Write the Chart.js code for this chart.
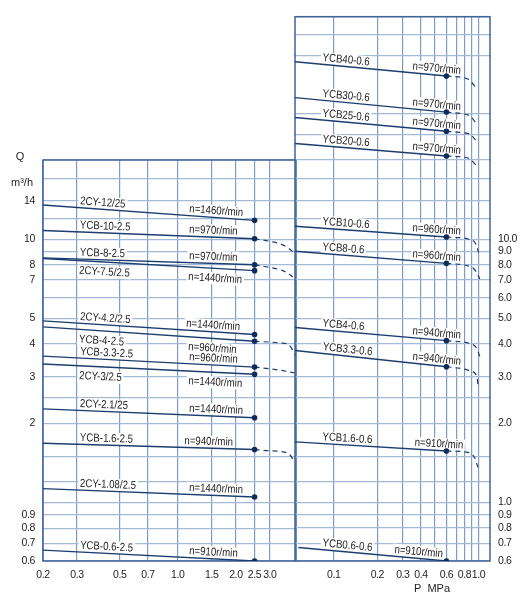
<!DOCTYPE html>
<html>
<head>
<meta charset="utf-8">
<title>Pump performance chart</title>
<script src="https://cdn.jsdelivr.net/npm/chart.js@4.4.1/dist/chart.umd.min.js"></script>
<style>
  html, body { margin: 0; padding: 0; background: #fff; }
  #wrap { position: relative; width: 532px; height: 612px; }
  #wrap canvas { position: absolute; left: 0; top: 0; }
</style>
</head>
<body>
<div id="wrap">
  <canvas id="leftChart" width="532" height="612"></canvas>
  <canvas id="rightChart" width="532" height="612"></canvas>
</div>
<script>
// ---- left panel (P 0.2 .. 2.5 MPa) ----
const leftModels = ['2CY-12/25', 'YCB-10-2.5', 'YCB-8-2.5', '2CY-7.5/2.5', '2CY-4.2/2.5', 'YCB-4-2.5',
                    'YCB-3.3-2.5', '2CY-3/2.5', '2CY-2.1/25', 'YCB-1.6-2.5', '2CY-1.08/2.5', 'YCB-0.6-2.5'];
const leftSpeeds = ['n=1460r/min', 'n=970r/min', 'n=970r/min', 'n=1440r/min', 'n=1440r/min', 'n=960r/min',
                    'n=960r/min', 'n=1440r/min', 'n=1440r/min', 'n=940r/min', 'n=1440r/min', 'n=910r/min'];
const leftPStart = 0.2;
const leftPRated = 2.5;
const leftQStart = [13.5, 10.8, 8.5, 8.45, 4.9, 4.65, 3.6, 3.36, 2.27, 1.68, 1.13, 0.66];
const leftQRated = [11.8, 10.05, 8.0, 7.6, 4.35, 4.1, 3.27, 3.07, 2.1, 1.59, 1.05, 0.6];

// dashed run-out curves [P, Q]
const tailYCB10 = [[2.5, 10.05], [3.05, 9.8], [3.4, 9.6], [3.75, 9.25], [4.1, 8.75]];
const tailYCB8 = [[2.5, 8.0], [3.05, 7.8], [3.5, 7.6], [3.85, 7.3], [4.1, 6.95]];
const tailYCB4 = [[2.5, 4.1], [3.4, 4.04], [3.75, 3.98], [3.95, 3.78], [4.1, 3.6]];
const tailYCB33 = [[2.5, 3.27], [3.0, 3.22], [3.5, 3.17], [4.1, 3.1]];
const tailYCB16 = [[2.5, 1.59], [2.9, 1.575], [3.35, 1.565], [3.8, 1.52], [4.05, 1.42]];
const leftTails = [null, tailYCB10, tailYCB8, null, null, tailYCB4, tailYCB33, null, null, tailYCB16, null, null];

const leftPTicks = [0.2, 0.3, 0.5, 0.7, 1.0, 1.5, 2.0, 2.5, 3.0];
const leftQGrid = [0.6, 0.7, 0.8, 0.9, 1, 1.2, 1.5, 2, 2.5, 3, 4, 5, 6, 7, 8, 9, 10, 12, 14, 17, 20];
const leftQLabels = [0.6, 0.7, 0.8, 0.9, 2, 3, 4, 5, 7, 8, 10, 14];

// ---- right panel (P .. 0.6 MPa) ----
const rightModels = ['YCB40-0.6', 'YCB30-0.6', 'YCB25-0.6', 'YCB20-0.6', 'YCB10-0.6', 'YCB8-0.6',
                     'YCB4-0.6', 'YCB3.3-0.6', 'YCB1.6-0.6', 'YCB0.6-0.6'];
const rightSpeeds = ['n=970r/min', 'n=970r/min', 'n=970r/min', 'n=970r/min', 'n=960r/min', 'n=960r/min',
                     'n=940r/min', 'n=940r/min', 'n=910r/min', 'n=910r/min'];
const rightPStart = [0.054, 0.054, 0.054, 0.054, 0.054, 0.054, 0.054, 0.054, 0.054, 0.057];
const rightPRated = 0.6;
const rightQStart = [47.2, 34.5, 29.0, 23.1, 11.2, 9.0, 4.62, 3.78, 1.70, 0.675];
const rightQRated = [41.7, 30.4, 25.7, 20.7, 10.2, 8.1, 4.12, 3.28, 1.57, 0.6];

const tailYCB40r = [[0.6, 41.7], [0.78, 41.1], [0.85, 40.5], [0.9, 39.3], [0.96, 37.7]];
const tailYCB30r = [[0.6, 30.4], [0.79, 29.9], [0.88, 29.3], [0.96, 27.6]];
const tailYCB25r = [[0.6, 25.7], [0.79, 25.35], [0.88, 25.0], [0.96, 23.7]];
const tailYCB20r = [[0.6, 20.7], [0.79, 20.5], [0.88, 20.1], [0.96, 19.1]];
const tailYCB10r = [[0.6, 10.2], [0.9, 9.93], [0.96, 9.56], [1.0, 8.9]];
const tailYCB8r = [[0.6, 8.1], [0.9, 7.82], [0.97, 7.48], [1.02, 7.06]];
const tailYCB4r = [[0.6, 4.12], [0.88, 4.01], [0.97, 3.86], [1.02, 3.59]];
const tailYCB33r = [[0.6, 3.28], [0.9, 3.15], [0.98, 2.95], [0.99, 2.78]];
const tailYCB16r = [[0.6, 1.57], [0.86, 1.547], [0.94, 1.48], [0.99, 1.36]];
const rightTails = [tailYCB40r, tailYCB30r, tailYCB25r, tailYCB20r, tailYCB10r, tailYCB8r,
                    tailYCB4r, tailYCB33r, tailYCB16r, null];

const rightPGrid = [0.1, 0.2, 0.3, 0.4, 0.5, 0.6, 0.7, 0.8, 0.9, 1.0];
const rightPLabels = [0.1, 0.2, 0.3, 0.4, 0.6, 0.8, 1.0];
const rightQGrid = leftQGrid.concat([25, 30, 50, 60, 70]);
const rightQLabels = [0.6, 0.7, 0.8, 0.9, 1, 2, 3, 4, 5, 6, 7, 8, 9, 10];

// ---- styles ----
const LINE = '#1c3d70';
const DOT = '#0e2b5a';
const GRID_V = '#7f9cc4';
const GRID_H = '#a4b9d5';
const FRAME = '#3f6499';
const TEXT = '#1e1e1e';
const FONT = '"Liberation Sans", Arial, sans-serif';
const SQUEEZE = 0.84; // labels in the original are set condensed

Chart.defaults.font.family = FONT;
Chart.defaults.color = TEXT;

function buildDatasets(models, pStart, qStart, pRated, qRated, tails) {
    const sets = [];
    models.forEach((m, i) => {
        const p0 = Array.isArray(pStart) ? pStart[i] : pStart;
        sets.push({
            label: m,
            data: [{x: p0, y: qStart[i]}, {x: pRated, y: qRated[i]}],
            borderColor: LINE,
            borderWidth: 1.4,
            pointRadius: [0, 2.8],
            pointBackgroundColor: DOT,
            pointBorderWidth: 0,
            fill: false
        });
        if (tails[i]) {
            sets.push({
                label: m + ' (run-out)',
                data: tails[i].map(([x, y]) => ({x, y})),
                borderColor: LINE,
                borderWidth: 1.2,
                borderDash: [5, 4],
                pointRadius: 0,
                cubicInterpolationMode: 'monotone',
                fill: false
            });
        }
    });
    return sets;
}

// tighter tick text, like the condensed face of the original
const tightText = {
    id: 'tightText',
    beforeDraw(chart) { chart.ctx.letterSpacing = '-0.4px'; }
};

// frame, line labels, axis captions
const annotate = {
    id: 'annotate',
    beforeDatasetsDraw(chart, args, opts) {
        const {ctx, chartArea: a, scales: {x, y}} = chart;
        ctx.save();
        ctx.letterSpacing = '0px';
        ctx.strokeStyle = FRAME;
        ctx.lineWidth = 1.5;
        ctx.strokeRect(a.left, a.top, a.right - a.left, a.bottom - a.top);

        ctx.font = '11.5px ' + FONT;
        ctx.textBaseline = 'middle';
        ctx.textAlign = 'left';
        opts.models.forEach((m, i) => {
            const ps = Array.isArray(opts.pStart) ? opts.pStart[i] : opts.pStart;
            const x0 = x.getPixelForValue(ps), y0 = y.getPixelForValue(opts.qStart[i]);
            const x1 = x.getPixelForValue(opts.pRated), y1 = y.getPixelForValue(opts.qRated[i]);
            const ang = Math.atan2(y1 - y0, x1 - x0);
            const below = opts.below.includes(m);
            const off = below ? 10 : -6.5;
            const put = (txt, pLeft) => {
                const px = x.getPixelForValue(pLeft);
                const py = y0 + (px - x0) * Math.tan(ang);
                const w = ctx.measureText(txt).width;
                ctx.save();
                ctx.translate(px, py);
                ctx.rotate(ang);
                ctx.scale(SQUEEZE, 1);
                ctx.fillStyle = '#fff';
                ctx.fillRect(-2, off - 6, w + 4, 12);
                ctx.fillStyle = TEXT;
                ctx.fillText(txt, 0, off);
                ctx.restore();
            };
            put(m, opts.modelP);
            put(opts.speeds[i], opts.speedP[m] || opts.speedPDefault);
        });

        ctx.fillStyle = TEXT;
        ctx.font = '11px ' + FONT;
        ctx.textAlign = 'center';
        opts.captions.forEach(c => ctx.fillText(c.text, a.left + c.dx, (c.fromBottom ? a.bottom : a.top) + c.dy));
        ctx.restore();
    }
};

function logAxis(min, max, grid, labels, color, fmt, extra) {
    return Object.assign({
        type: 'logarithmic',
        min: min,
        max: max,
        afterBuildTicks: s => { s.ticks = grid.map(v => ({value: v})); },
        ticks: {
            autoSkip: false,
            maxRotation: 0,
            padding: 8,
            color: TEXT,
            font: {size: 10.5},
            callback: v => labels.includes(v) ? fmt(v) : ''
        },
        grid: {color: color, lineWidth: 1.2, drawTicks: false},
        border: {display: false}
    }, extra);
}

const baseOptions = {
    responsive: false,
    animation: false,
    events: [],
    plugins: {legend: {display: false}, tooltip: {enabled: false}}
};

new Chart(document.getElementById('leftChart'), {
    type: 'line',
    data: {datasets: buildDatasets(leftModels, leftPStart, leftQStart, leftPRated, leftQRated, leftTails)},
    plugins: [tightText, annotate],
    options: Object.assign({}, baseOptions, {
        layout: {padding: {top: 160, right: 236, left: 0, bottom: 0}},
        plugins: Object.assign({}, baseOptions.plugins, {
            annotate: {
                models: leftModels, speeds: leftSpeeds,
                pStart: leftPStart, pRated: leftPRated, qStart: leftQStart, qRated: leftQRated,
                modelP: 0.31, speedPDefault: 1.14, speedP: {'2CY-4.2/2.5': 1.1, 'YCB-1.6-2.5': 1.08},
                below: ['2CY-7.5/2.5', 'YCB-4-2.5', '2CY-3/2.5'],
                captions: [{text: 'Q', dx: -23, dy: -3}, {text: 'm³/h', dx: -21, dy: 23}]
            }
        }),
        scales: {
            x: logAxis(0.2, 4.1, leftPTicks, leftPTicks, GRID_V, v => v < 1 ? String(v) : v.toFixed(1),
                       {afterFit: s => { s.height = 51; }}),
            y: logAxis(0.6, 20, leftQGrid, leftQLabels, GRID_H, v => String(v),
                       {afterFit: s => { s.width = 43; }})
        }
    })
});

new Chart(document.getElementById('rightChart'), {
    type: 'line',
    data: {datasets: buildDatasets(rightModels, rightPStart, rightQStart, rightPRated, rightQRated, rightTails)},
    plugins: [tightText, annotate],
    options: Object.assign({}, baseOptions, {
        layout: {padding: {top: 16.7, right: 0, left: 295, bottom: 0}},
        plugins: Object.assign({}, baseOptions.plugins, {
            annotate: {
                models: rightModels, speeds: rightSpeeds,
                pStart: rightPStart, pRated: rightPRated, qStart: rightQStart, qRated: rightQRated,
                modelP: 0.083, speedPDefault: 0.347, speedP: {'YCB0.6-0.6': 0.26, 'YCB1.6-0.6': 0.36},
                below: [],
                captions: [{text: 'P  MPa', dx: 137, dy: 28, fromBottom: true}]
            }
        }),
        scales: {
            x: logAxis(0.054, 1.2, rightPGrid, rightPLabels, GRID_V, v => v.toFixed(1),
                       {afterFit: s => { s.height = 51; }}),
            y: logAxis(0.6, 70, rightQGrid, rightQLabels, GRID_H, v => v.toFixed(1),
                       {position: 'right', afterFit: s => { s.width = 42; }})
        }
    })
});
</script>
</body>
</html>
